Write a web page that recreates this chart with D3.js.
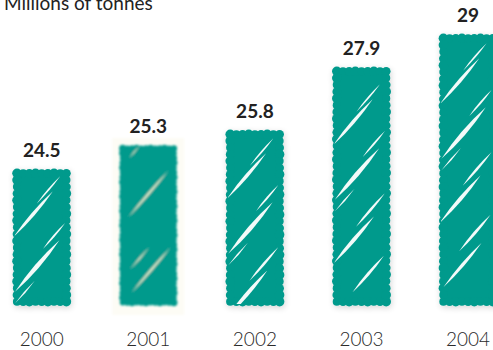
<!DOCTYPE html>
<html>
<head>
<meta charset="utf-8">
<script src="https://cdn.jsdelivr.net/npm/d3@7"></script>
<style>
  html, body { margin: 0; padding: 0; background: #ffffff; }
  svg { display: block; }
</style>
</head>
<body>
<svg id="chart" width="493" height="350"></svg>
<script>
// Annual tonnage, in millions of tonnes
const years = ["2000", "2001", "2002", "2003", "2004"];
const values = [24.5, 25.3, 25.8, 27.9, 29];
const valueLabels = ["24.5", "25.3", "25.8", "27.9", "29"];
const unitLabel = "Millions of tonnes";

// Marker-stroke highlights inside each bar: [x fraction, y offset px, length px, width px]
const streaks = [
  [0.62, 20, 36, 1.8],
  [0.35, 44, 60, 3.6],
  [0.72, 66, 34, 2.0],
  [0.42, 96, 68, 4.6],
  [0.20, 122, 30, 1.6],
  [0.66, 132, 44, 2.6],
  [0.36, 162, 62, 4.0],
  [0.62, 196, 48, 3.0],
  [0.40, 228, 58, 3.4]
];

const W = 493, H = 350;
const baseY = 305;
const teal = "#009a8c";

const svg = d3.select("#chart");
const defs = svg.append("defs");

// Soft drop shadow for the marker bars
const shade = defs.append("filter").attr("id", "shade")
  .attr("x", "-20%").attr("y", "-20%").attr("width", "140%").attr("height", "140%");
shade.append("feGaussianBlur").attr("in", "SourceAlpha").attr("stdDeviation", 3).attr("result", "sh");
shade.append("feOffset").attr("in", "sh").attr("dx", 1).attr("dy", 2).attr("result", "sho");
shade.append("feComponentTransfer").attr("in", "sho").attr("result", "shf")
  .append("feFuncA").attr("type", "linear").attr("slope", 0.16);
const m1 = shade.append("feMerge");
m1.append("feMergeNode").attr("in", "shf");
m1.append("feMergeNode").attr("in", "SourceGraphic");

// Smudged version
const soft = defs.append("filter").attr("id", "soft")
  .attr("x", "-20%").attr("y", "-20%").attr("width", "140%").attr("height", "140%");
soft.append("feGaussianBlur").attr("in", "SourceGraphic").attr("stdDeviation", 1.1);

const x = d3.scaleBand()
  .domain(years)
  .range([-11.6, 521.4])
  .paddingInner(0.475)
  .paddingOuter(0.2375);

const y = d3.scaleLinear()
  .domain([20, 29])
  .range([baseY, 35]);

// Dab centres along the outline of a rectangle (felt-pen edge)
function edgeDabs(x0, y0, w, h, step, inset) {
  const pts = [];
  const nx = Math.max(1, Math.round(w / step)), ny = Math.max(1, Math.round(h / step));
  for (let k = 0; k <= nx; k++) {
    const px = x0 + inset + (w - 2 * inset) * k / nx;
    pts.push([px, y0 + inset, k], [px, y0 + h - inset, k + 1]);
  }
  for (let k = 1; k < ny; k++) {
    const py = y0 + inset + (h - 2 * inset) * k / ny;
    pts.push([x0 + inset, py, k + 2], [x0 + w - inset, py, k]);
  }
  return pts;
}

// Tapered highlight stroke from (x1,y1) to (x2,y2)
function lens(x1, y1, x2, y2, w) {
  const mx = (x1 + x2) / 2, my = (y1 + y2) / 2;
  const dx = x2 - x1, dy = y2 - y1;
  const L = Math.hypot(dx, dy);
  const nx = -dy / L * w, ny = dx / L * w;
  return `M${x1},${y1} Q${mx + nx},${my + ny} ${x2},${y2} Q${mx - nx},${my - ny} ${x1},${y1}Z`;
}

const data = years.map((yr, i) => ({ year: yr, value: values[i], label: valueLabels[i] }));

// faint smudge behind the 2001 bar
svg.append("rect")
  .attr("x", x("2001") - 8).attr("y", y(25.3) - 8)
  .attr("width", x.bandwidth() + 16).attr("height", baseY - y(25.3) + 18)
  .attr("fill", "#fdfcf5").attr("filter", "url(#soft)");

data.forEach((d, i) => {
  const bx = x(d.year), bw = x.bandwidth();
  const top = y(d.value), bh = baseY - top;
  const clipId = "clip" + i;
  const smudged = d.year === "2001";
  const step = smudged ? 5 : 7, r = smudged ? 3.2 : 4.4, inset = smudged ? 2.4 : 3.3;
  defs.append("clipPath").attr("id", clipId)
    .append("rect").attr("x", bx + 1).attr("y", top + 1).attr("width", bw - 2).attr("height", bh - 2);

  const g = svg.append("g").attr("filter", smudged ? "url(#soft)" : "url(#shade)");
  g.append("rect")
    .attr("x", bx + inset).attr("y", top + inset)
    .attr("width", bw - 2 * inset).attr("height", bh - 2 * inset)
    .attr("fill", teal);
  g.selectAll("circle")
    .data(edgeDabs(bx, top, bw, bh, step, inset))
    .join("circle")
    .attr("cx", p => p[0]).attr("cy", p => p[1])
    .attr("r", p => r + (p[2] % 3 === 0 ? 0.4 : p[2] % 3 === 1 ? -0.3 : 0))
    .attr("fill", teal);

  const sg = g.append("g").attr("clip-path", `url(#${clipId})`);
  const list = smudged ? [[0.25, 6, 16, 1.2], [0.5, 48, 62, 2.2], [0.35, 112, 30, 1.6], [0.55, 124, 60, 2.2]] : streaks;
  list.forEach(s => {
    const sy = top + s[1] + (smudged ? 0 : (i * 9) % 17);
    if (sy > baseY - 10) return;
    const sx = bx + s[0] * bw;
    const ang = 0.86; // stroke slant, radians
    const len = s[2];
    const x1 = sx - len * Math.cos(ang) / 2, y1 = sy + len * Math.sin(ang) / 2;
    const x2 = sx + len * Math.cos(ang) / 2, y2 = sy - len * Math.sin(ang) / 2;
    sg.append("path")
      .attr("d", lens(x1, y1, x2, y2, s[3]))
      .attr("fill", smudged ? "#f1edcc" : "#ffffff")
      .attr("opacity", 0.95);
  });
});

// value labels above the bars
svg.selectAll("text.val")
  .data(data)
  .join("text")
  .attr("class", "val")
  .attr("x", d => x(d.year) + x.bandwidth() / 2)
  .attr("y", d => y(d.value) - 13)
  .attr("text-anchor", "middle")
  .attr("font-family", "Lato, 'Open Sans', sans-serif")
  .attr("font-weight", 700)
  .attr("font-size", 19)
  .attr("fill", "#222222")
  .text(d => d.label);

// year axis (no line, no ticks)
const axis = svg.append("g")
  .attr("transform", `translate(0, ${baseY})`)
  .call(d3.axisBottom(x).tickSize(0).tickPadding(28));
axis.select(".domain").remove();
axis.selectAll("text")
  .attr("font-family", "Lato, 'Open Sans', sans-serif")
  .attr("font-weight", 300)
  .attr("font-size", 19)
  .attr("fill", "#2a2a2a");

// unit caption
svg.append("text")
  .attr("x", 4)
  .attr("y", 10)
  .attr("font-family", "Lato, 'Open Sans', sans-serif")
  .attr("font-size", 19)
  .attr("fill", "#222222")
  .text(unitLabel);
</script>
</body>
</html>
